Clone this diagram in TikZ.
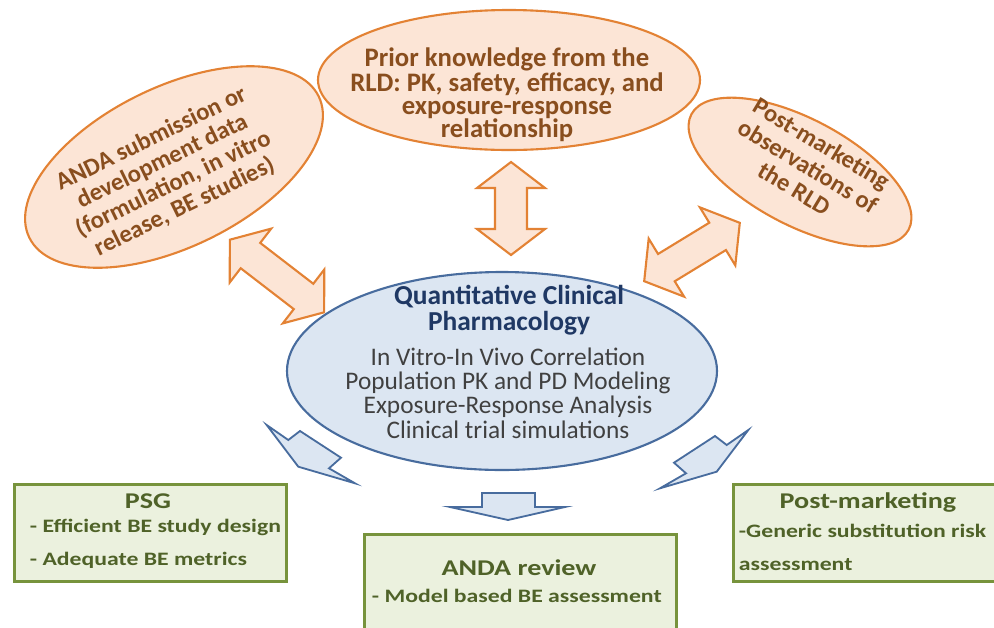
\documentclass[tikz,border=0pt]{standalone}
\usepackage{fontspec}
\setmainfont{Carlito}
\newfontfamily\boxfont[FakeStretch=1.25]{Carlito}
\usetikzlibrary{shapes.geometric, positioning}

\definecolor{peachfill}{RGB}{252,229,214}
\definecolor{peachline}{RGB}{227,130,52}
\definecolor{rldbrown}{RGB}{137,78,30}
\definecolor{qcpfill}{RGB}{220,230,242}
\definecolor{qcpline}{RGB}{72,108,158}
\definecolor{qcpnavy}{RGB}{31,56,100}
\definecolor{qcpgray}{RGB}{64,64,64}
\definecolor{usefill}{RGB}{235,241,222}
\definecolor{useline}{RGB}{119,147,60}
\definecolor{usetext}{RGB}{79,98,40}

\newlength{\px}
\setlength{\px}{0.025cm}

\tikzset{
    pics/twoway/.style={code={
        \path[twowayline] ({#1/2},0) -- ({#1/2-26},34) -- ({#1/2-26},16) -- ({-#1/2+26},16)
            -- ({-#1/2+26},34) -- ({-#1/2},0) -- ({-#1/2+26},-34) -- ({-#1/2+26},-16)
            -- ({#1/2-26},-16) -- ({#1/2-26},-34) -- cycle;
    }},
    pics/bolt/.style={code={
        \path[boltline] (0,0) -- (21.6,-15) -- (33.3,-6) -- (74.3,-32.7) -- (62.3,-43.3)
            -- (88.3,-58.3) -- (31.6,-41.7) -- cycle;
    }}
}

\begin{document}
\begin{tikzpicture}[
    x=\px, y=\px,
    bubble/.style={ellipse, draw=peachline, fill=peachfill, line width=1.5pt, inner sep=0pt},
    bubbletext/.style={text=rldbrown, font=\fontsize{17.5}{18}\selectfont\bfseries, align=center},
    hub/.style={ellipse, draw=qcpline, fill=qcpfill, line width=1.5pt, inner sep=0pt},
    hubtitle/.style={text=qcpnavy, font=\fontsize{19.5}{17.8}\selectfont\bfseries, align=center},
    hubtext/.style={text=qcpgray, font=\fontsize{18}{17.3}\selectfont, align=center},
    usebox/.style={draw=useline, fill=usefill, line width=1.8pt, inner sep=0pt, anchor=north west},
    usetitle/.style={text=usetext, font=\boxfont\fontsize{16}{18}\selectfont\bfseries, anchor=base},
    useitem/.style={text=usetext, font=\boxfont\fontsize{13.5}{16}\selectfont\bfseries, anchor=base west},
    twowayline/.style={draw=peachline, fill=peachfill, line width=1.5pt, line join=miter},
    boltline/.style={draw=qcpline, fill=qcpfill, line width=1.3pt, line join=miter}
]
    \useasboundingbox (0,0) rectangle (994,-627);
    \clip (0,0) rectangle (994,-627);

    % Sources
    \node[bubble, minimum width=382\px, minimum height=140\px] (prior) at (509,-80) {};
    \node[bubbletext, font=\fontsize{19}{16.5}\selectfont\bfseries] at (507,-95)
        {Prior knowledge from the\\RLD: PK, safety, efficacy, and\\exposure-response\\relationship};
    \node[bubble, rotate=26, minimum width=322\px, minimum height=160\px] (anda) at (174,-167) {};
    \node[bubbletext, rotate=26] at (168,-173)
        {ANDA submission or\\development data\\(formulation, in vitro\\release, BE studies)};
    \node[bubble, rotate=-28, minimum width=246\px, minimum height=106\px] (postobs) at (800,-172) {};
    \node[bubbletext, rotate=-31, font=\fontsize{17.5}{18.8}\selectfont\bfseries] at (808,-166)
        {Post-marketing\\observations of\\the RLD};

    % Hub
    \node[hub, minimum width=430\px, minimum height=198\px] (qcp) at (502,-371) {};
    \node[hubtitle, anchor=base] at (509,-330) {Quantitative Clinical\\Pharmacology};
    \node[hubtext, anchor=base] at (508,-438)
        {In Vitro-In Vivo Correlation\\Population PK and PD Modeling\\Exposure-Response Analysis\\Clinical trial simulations};

    % Uses
    \node[usebox, minimum width=272\px, minimum height=97\px] (psg) at (13,-483) {};
    \node[usetitle] at (148,-508) {PSG};
    \node[useitem] at (25,-532) {- Efficient BE study design};
    \node[useitem] at (25,-565) {- Adequate BE metrics};

    \node[usebox, minimum width=312\px, minimum height=110\px] (review) at (363,-533) {};
    \node[usetitle] at (519,-575) {ANDA review};
    \node[useitem] at (367,-602) {- Model based BE assessment};

    \node[usebox, minimum width=300\px, minimum height=97\px] (postmkt) at (732,-483) {};
    \node[usetitle] at (868,-508) {Post-marketing};
    \node[useitem] at (734,-537) {-Generic substitution risk};
    \node[useitem] at (734,-570) {assessment};

    % Two-way arrows
    \pic[rotate=90] at (511,-208.5) {twoway=93};
    \pic[rotate=-37.6] at (277,-276) {twoway=119};
    \pic[rotate=31.4] at (692,-252) {twoway=112};

    % Arrows out of the hub
    \pic at (266.7,-425) {bolt};
    \pic[xscale=-1] at (748.3,-430) {bolt};
    \path[boltline] (482,-493) -- (535,-493) -- (535,-507) -- (565,-507) -- (508,-520)
        -- (450,-507) -- (482,-507) -- cycle;
\end{tikzpicture}
\end{document}
